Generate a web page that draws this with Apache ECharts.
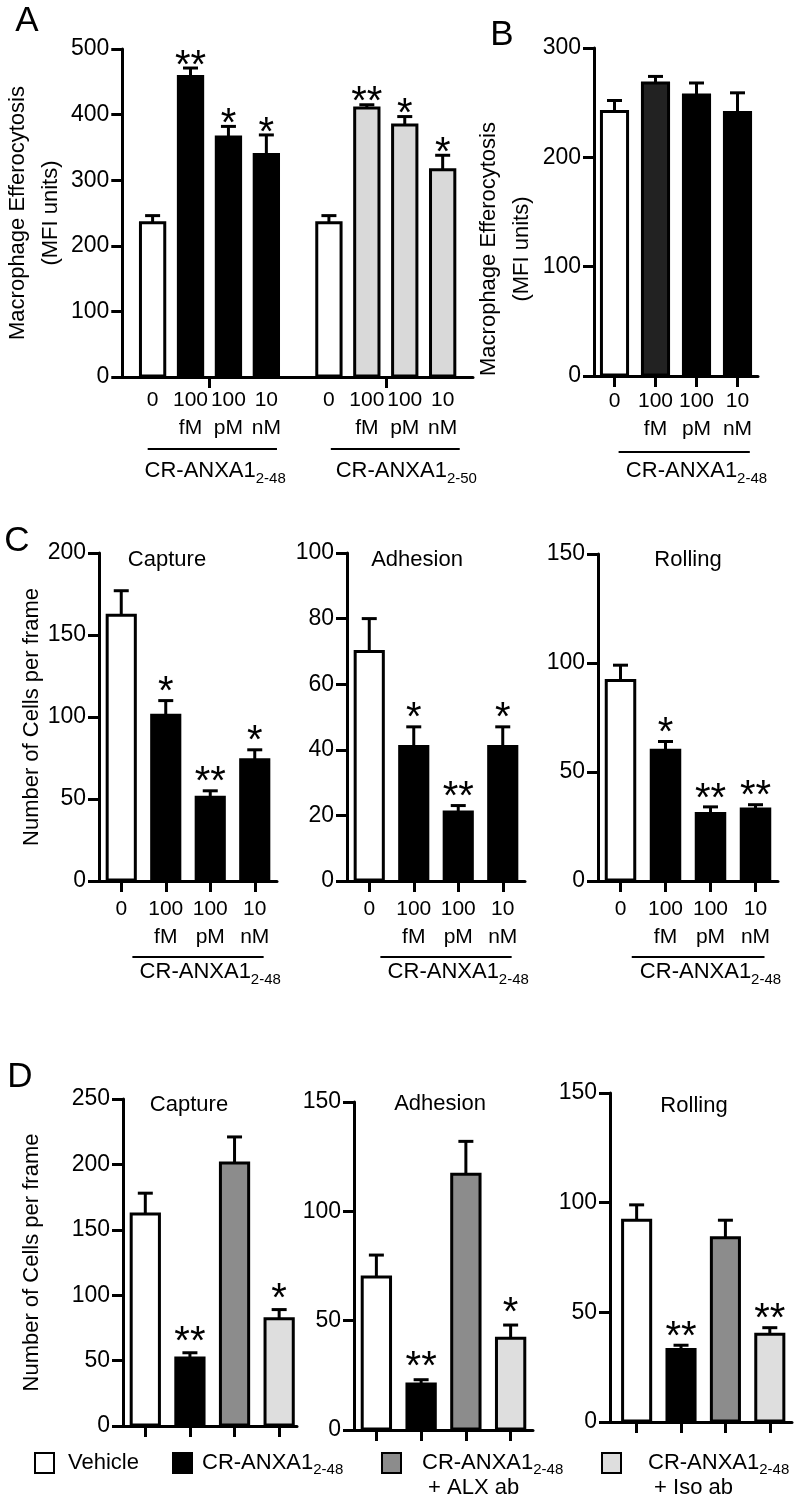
<!DOCTYPE html>
<html><head><meta charset="utf-8">
<script src="https://cdn.jsdelivr.net/npm/echarts@6/dist/echarts.min.js"></script>
<style>html,body{margin:0;padding:0;background:#fff}#c{width:796px;height:1499px}</style>
</head><body><div id="c"></div>
<script>
// ================= DATA =================
const doseCats = ['0', '100\nfM', '100\npM', '10\nnM'];
const treatCats = ['Vehicle', 'CR-ANXA1 2-48', 'CR-ANXA1 2-48 + ALX ab', 'CR-ANXA1 2-48 + Iso ab'];
const peptide248 = ['CR-ANXA1', '2-48'];
const peptide250 = ['CR-ANXA1', '2-50'];

// Panel A – macrophage efferocytosis (MFI units)
const yTicksA = [0, 100, 200, 300, 400, 500];
const effA248 = [235, 458, 366, 339];
const effA248Err = [11, 13, 16, 30];
const effA248Sig = ['', '**', '*', '*'];
const effA250 = [235, 410, 384, 316];
const effA250Err = [11, 5, 13, 22];
const effA250Sig = ['', '**', '*', '*'];

// Panel B
const yTicksB = [0, 100, 200, 300];
const effB = [242, 268, 257, 241];
const effBErr = [10, 6, 11, 18];
const effBSig = ['', '', '', ''];

// Panel C – cells per frame, dose response
const yTicksCCapture = [0, 50, 100, 150, 200];
const cCapture = [162, 101, 51, 74];
const cCaptureErr = [15, 9, 4, 6];
const cCaptureSig = ['', '*', '**', '*'];
const yTicksCAdhesion = [0, 20, 40, 60, 80, 100];
const cAdhesion = [70, 41, 21, 41];
const cAdhesionErr = [10, 6, 2, 6];
const cAdhesionSig = ['', '*', '**', '*'];
const yTicksCRolling = [0, 50, 100, 150];
const cRolling = [92, 60, 31, 33];
const cRollingErr = [7, 4, 3, 2];
const cRollingSig = ['', '*', '**', '**'];

// Panel D – cells per frame, antibody blockade
const yTicksDCapture = [0, 50, 100, 150, 200, 250];
const dCapture = [162, 52, 201, 82];
const dCaptureErr = [16, 4, 20, 7];
const dCaptureSig = ['', '**', '', '*'];
const yTicksDAdhesion = [0, 50, 100, 150];
const dAdhesion = [70, 21, 117, 42];
const dAdhesionErr = [10, 2, 15, 6];
const dAdhesionSig = ['', '**', '', '*'];
const yTicksDRolling = [0, 50, 100, 150];
const dRolling = [92, 33, 84, 40];
const dRollingErr = [7, 2, 8, 3];
const dRollingSig = ['', '**', '', '**'];

// ================= STYLE / LAYOUT =================
const FONT = '"Liberation Sans", Arial, Helvetica, sans-serif';
const WHITE = '#ffffff', BLACK = '#000000', DARK = '#222222', GRAY = '#8c8c8c', LIGHT = '#d9d9d9', LIGHTD = '#dedede';
const STAR_FS = 40;
const richSub = {
  a: {fontSize: 22, fontFamily: FONT, fill: '#000', lineHeight: 26},
  s: {fontSize: 15, fontFamily: FONT, fill: '#000', lineHeight: 15, padding: [15, 0, 0, 0]}
};

const option = {animation: false, backgroundColor: '#fff', grid: [], xAxis: [], yAxis: [], series: [], graphic: []};

function barRenderer(p, s) {
  return function (params, api) {
    const x = api.value(0), v = api.value(1), e = api.value(2), i = api.value(3);
    const b = api.coord([x, 0]), t = api.coord([x, v]), et = api.coord([x, v + e]);
    const w = api.size([p.barW, 0])[0] - 3;
    const ch = [];
    if (e > 0) {
      ch.push({type: 'line', shape: {x1: t[0], y1: t[1], x2: et[0], y2: et[1]}, style: {stroke: '#000', lineWidth: 3}});
      ch.push({type: 'line', shape: {x1: et[0] - 7.5, y1: et[1], x2: et[0] + 7.5, y2: et[1]}, style: {stroke: '#000', lineWidth: 3}});
    }
    ch.push({type: 'rect', shape: {x: t[0] - w / 2, y: t[1], width: w, height: b[1] - t[1] - 1}, style: {fill: s.colors[i], stroke: '#000', lineWidth: 3}});
    const sig = s.sig[i];
    if (sig) {
      ch.push({type: 'text', x: et[0], y: et[1] - p.starGap + 0.24 * STAR_FS,
        style: {text: sig, fontSize: STAR_FS, fontFamily: FONT, fill: '#000', align: 'center', verticalAlign: 'middle'}});
    }
    return {type: 'group', children: ch};
  };
}

function groupRenderer(p) {
  return function (params, api) {
    const g = p.groups[params.dataIndex];
    const a = api.coord([api.value(0), 0]), b = api.coord([api.value(1), 0]), m = api.coord([api.value(2), 0]);
    return {type: 'group', children: [
      {type: 'line', shape: {x1: a[0], y1: a[1] + p.lineOff, x2: b[0], y2: b[1] + p.lineOff}, style: {stroke: '#000', lineWidth: 2}},
      {type: 'text', x: m[0], y: m[1] + p.labelOff,
        style: {text: '{a|' + g.name[0] + '}{s|' + g.name[1] + '}', rich: richSub, align: 'center', verticalAlign: 'middle'}}
    ]};
  };
}

function addPanel(p) {
  const gi = option.grid.length;
  option.grid.push({left: p.left, top: p.top, width: p.width, height: p.height, containLabel: false});
  const allPos = [];
  p.series.forEach(s => s.values.forEach((v, i) => allPos.push(s.offset + i)));
  const allLab = [];
  p.series.forEach(s => s.values.forEach((v, i) => allLab.push(p.xLabels ? p.xLabels[i] : '')));
  option.xAxis.push({
    gridIndex: gi, type: 'value', min: p.xMin, max: p.xMax,
    axisLine: {show: true, onZero: false, lineStyle: {color: '#000', width: 3}},
    axisTick: {show: true, length: 11, customValues: p.xTicks, lineStyle: {color: '#000', width: 3}},
    axisLabel: {show: !!p.xLabels, customValues: allPos, color: '#000', fontSize: 21, fontFamily: FONT,
      lineHeight: 28, margin: p.labelMargin || 10,
      formatter: function (val) { const k = allPos.findIndex(q => Math.abs(q - val) < 1e-6); return k >= 0 ? allLab[k] : ''; }},
    splitLine: {show: false}
  });
  const t = p.yTicks;
  option.yAxis.push({
    gridIndex: gi, type: 'value', min: t[0], max: t[t.length - 1], interval: t[1] - t[0],
    axisLine: {show: true, onZero: false, lineStyle: {color: '#000', width: 3}},
    axisTick: {show: true, length: 11, lineStyle: {color: '#000', width: 3}},
    axisLabel: {color: '#000', fontSize: 23, fontFamily: FONT, margin: 13,
      formatter: function (v) { return t.indexOf(v) >= 0 ? String(v) : ''; }},
    splitLine: {show: false},
    name: p.yName || '', nameLocation: 'middle', nameGap: p.nameGap || 40,
    nameTextStyle: {color: '#000', fontSize: 22, fontFamily: FONT, lineHeight: p.nameLH || 24, padding: p.namePad || 0}
  });
  p.series.forEach(s => option.series.push({
    type: 'custom', name: s.name, xAxisIndex: gi, yAxisIndex: gi, clip: false,
    renderItem: barRenderer(p, s),
    encode: {x: 0, y: 1},
    data: s.values.map((v, i) => [s.offset + i, v, s.err[i], i])
  }));
  if (p.groups) option.series.push({
    type: 'custom', name: 'groups', xAxisIndex: gi, yAxisIndex: gi, clip: false, silent: true,
    renderItem: groupRenderer(p), encode: {x: 0, y: 1},
    data: p.groups.map(g => [g.from, g.to, g.mid])
  });
}

// ---- Panel A ----
addPanel({left: 115, top: 49, width: 358, height: 328, xMin: -0.8, xMax: 8.45, barW: 0.72, starGap: 11,
  yTicks: yTicksA, xTicks: [1.5, 6.15], xLabels: doseCats, labelMargin: 9,
  yName: 'Macrophage Efferocytosis\n(MFI units)', nameGap: 48, nameLH: 33,
  lineOff: 72, labelOff: 94,
  groups: [{from: -0.13, to: 3.28, mid: 1.65, name: peptide248}, {from: 4.7, to: 8.1, mid: 6.69, name: peptide250}],
  series: [
    {name: 'CR-ANXA1 2-48', offset: 0, values: effA248, err: effA248Err, sig: effA248Sig, colors: [WHITE, BLACK, BLACK, BLACK]},
    {name: 'CR-ANXA1 2-50', offset: 4.65, values: effA250, err: effA250Err, sig: effA250Sig, colors: [WHITE, LIGHT, LIGHT, LIGHT]}
  ]});
// ---- Panel B ----
addPanel({left: 594, top: 48, width: 164, height: 328, xMin: -0.5, xMax: 3.5, barW: 0.71, starGap: 11,
  yTicks: yTicksB, xTicks: [0, 1, 2, 3], xLabels: doseCats, labelMargin: 11,
  yName: 'Macrophage Efferocytosis\n(MFI units)', nameGap: 33, nameLH: 33, namePad: [0, 74, 0, 0],
  lineOff: 76, labelOff: 95,
  groups: [{from: 0.1, to: 3.3, mid: 2.0, name: peptide248}],
  series: [{name: 'CR-ANXA1 2-48', offset: 0, values: effB, err: effBErr, sig: effBSig, colors: [WHITE, DARK, BLACK, BLACK]}]});
// ---- Panel C ----
const cCols = [WHITE, BLACK, BLACK, BLACK];
const cCommon = {top: 553, height: 328, xMin: -0.5, xMax: 3.5, barW: 0.7, starGap: 17, xTicks: [0, 1, 2, 3],
  xLabels: doseCats, labelMargin: 14, lineOff: 76, labelOff: 91};
addPanel(Object.assign({}, cCommon, {left: 99, width: 178, yTicks: yTicksCCapture,
  yName: 'Number of Cells per frame', nameGap: 55, nameLH: 24,
  groups: [{from: 0.25, to: 3.2, mid: 2.0, name: peptide248}],
  series: [{name: 'Capture', offset: 0, values: cCapture, err: cCaptureErr, sig: cCaptureSig, colors: cCols}]}));
addPanel(Object.assign({}, cCommon, {left: 347, width: 178, yTicks: yTicksCAdhesion,
  groups: [{from: 0.25, to: 3.2, mid: 2.0, name: peptide248}],
  series: [{name: 'Adhesion', offset: 0, values: cAdhesion, err: cAdhesionErr, sig: cAdhesionSig, colors: cCols}]}));
addPanel(Object.assign({}, cCommon, {left: 598, top: 554, height: 327, width: 180, yTicks: yTicksCRolling,
  groups: [{from: 0.25, to: 3.2, mid: 2.0, name: peptide248}],
  series: [{name: 'Rolling', offset: 0, values: cRolling, err: cRollingErr, sig: cRollingSig, colors: cCols}]}));
// ---- Panel D ----
const dCols = [WHITE, BLACK, GRAY, LIGHTD];
addPanel({left: 123, top: 1099, width: 174, height: 327, xMin: -0.5, xMax: 3.4, barW: 0.7, starGap: 19,
  yTicks: yTicksDCapture, xTicks: [0, 1, 2, 3], xLabels: null,
  yName: 'Number of Cells per frame', nameGap: 79, nameLH: 24,
  series: [{name: 'Capture', offset: 0, values: dCapture, err: dCaptureErr, sig: dCaptureSig, colors: dCols}]});
addPanel({left: 354, top: 1102, width: 179, height: 328, xMin: -0.5, xMax: 3.5, barW: 0.7, starGap: 21,
  yTicks: yTicksDAdhesion, xTicks: [0, 1, 2, 3], xLabels: null,
  series: [{name: 'Adhesion', offset: 0, values: dAdhesion, err: dAdhesionErr, sig: dAdhesionSig, colors: dCols}]});
addPanel({left: 610, top: 1093, width: 182, height: 329, xMin: -0.6, xMax: 3.5, barW: 0.7, starGap: 17,
  yTicks: yTicksDRolling, xTicks: [0, 1, 2, 3], xLabels: null,
  series: [{name: 'Rolling', offset: 0, values: dRolling, err: dRollingErr, sig: dRollingSig, colors: dCols}]});

// ---- annotations: panel letters, subplot titles, legend ----
function txt(x, y, text, size, align) {
  return {type: 'text', x: x, y: y, silent: true,
    style: {text: text, fontSize: size, fontFamily: FONT, fill: '#000', align: align || 'center', textAlign: align || 'center',
      verticalAlign: 'middle', textVerticalAlign: 'middle'}};
}
option.graphic.push(txt(27, 21, 'A', 35), txt(502, 35, 'B', 35), txt(17, 541, 'C', 35), txt(20, 1077, 'D', 35));
option.graphic.push(txt(167, 560, 'Capture', 22), txt(417, 560, 'Adhesion', 22), txt(688, 560, 'Rolling', 22));
option.graphic.push(txt(189, 1105, 'Capture', 22), txt(440, 1104, 'Adhesion', 22), txt(694, 1106, 'Rolling', 22));

const legendBoxX = [35, 173, 382, 602];
const legendTextX = [68, 202, 422, 648];
const legendCols = [WHITE, BLACK, GRAY, LIGHTD];
const legendRich = {
  a: {fontSize: 22, fontFamily: FONT, fill: '#000', lineHeight: 25},
  s: {fontSize: 15, fontFamily: FONT, fill: '#000', lineHeight: 15, padding: [15, 0, 0, 0]}
};
const legendTexts = treatCats.map(function (c) {
  if (c === 'Vehicle') return '{a|Vehicle}';
  const parts = c.split(' + ');
  const head = parts[0].split(' ');
  let s = '{a|' + head[0] + '}{s|' + head[1] + '}';
  if (parts[1]) s += '\n{a| + ' + parts[1] + '}';
  return s;
});
legendCols.forEach(function (col, i) {
  option.graphic.push({type: 'rect', silent: true, shape: {x: legendBoxX[i], y: 1453, width: 19, height: 20},
    style: {fill: col, stroke: '#000', lineWidth: 2}});
  option.graphic.push({type: 'text', silent: true, x: legendTextX[i], y: 1450,
    style: {text: legendTexts[i], rich: legendRich, align: 'left', textAlign: 'left', verticalAlign: 'top', textVerticalAlign: 'top'}});
});

const chart = echarts.init(document.getElementById('c'), null, {renderer: 'canvas'});
chart.setOption(option);
</script></body></html>
